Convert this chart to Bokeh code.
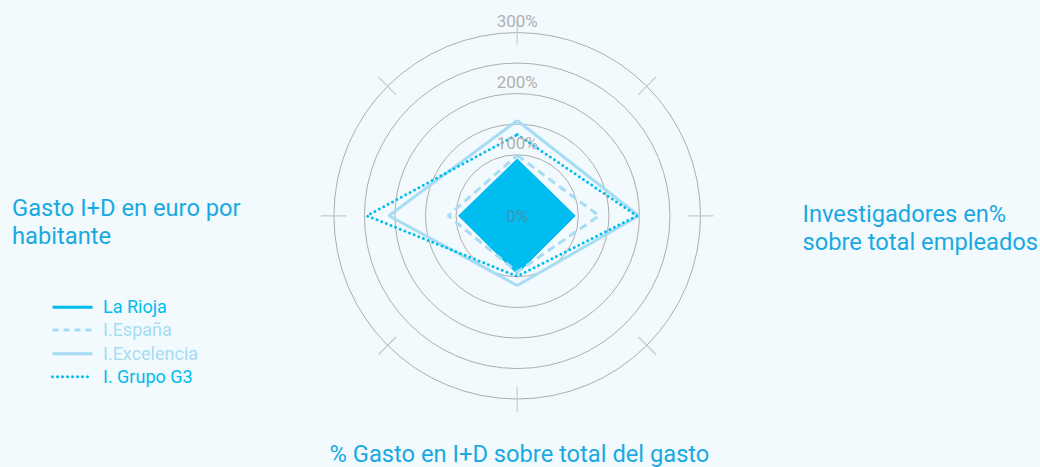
import numpy as np
from bokeh.plotting import figure
from bokeh.models import Range1d
from bokeh.core.properties import value
from bokeh.embed import file_html
from bokeh.resources import INLINE

# ---------------- data ----------------
axis_labels = ["",
               ["Investigadores en%", "sobre total empleados"],
               ["% Gasto en I+D sobre total del gasto"],
               ["Gasto I+D en euro por", "habitante"]]
axis_angles_deg = [90, 0, -90, 180]          # top, right, bottom, left
series_names = ["La Rioja", "I.España", "I.Excelencia", "I. Grupo G3"]
la_rioja = [93, 95, 95, 96]
espana = [99, 134, 92, 113]
excelencia = [156, 199, 114, 210]
grupo_g3 = [133, 196, 99, 246]
ring_values = [50, 100, 150, 200, 250, 300]
ring_labels = {0: "0%", 100: "100%", 200: "200%", 300: "300%"}

# ---------------- layout helpers ----------------
W, H = 1040, 467
CX, CY = 516.7, 215.3         # page pixel of centre
PPU = 0.611                   # pixels per percent unit


def px(x):
    return (x - CX) / PPU


def py(y):
    return (CY - y) / PPU


BG = "#f3fafd"
CYAN = "#00bdef"
LIGHT = "#a6dcf4"
TEXT = "#19a9e2"
FONT = value("Roboto")

p = figure(width=W, height=H, output_backend="svg", toolbar_location=None,
           x_range=Range1d(px(0), px(W)),
           y_range=Range1d(py(H), py(0)),
           min_border=0)
p.axis.visible = False
p.grid.visible = False
p.outline_line_color = None
p.background_fill_color = BG
p.border_fill_color = BG

# rings
for r in ring_values:
    if r == 50:
        p.circle(x=0, y=0, radius=r, fill_color=None, line_color="#8f8f8f",
                 line_width=0.8, line_dash="2 2")
    else:
        p.circle(x=0, y=0, radius=r, fill_color=None, line_color="#a5a5a5",
                 line_width=0.9)

# radial ticks on outer ring
for a in range(0, 360, 45):
    t = np.deg2rad(a)
    p.line([280 * np.cos(t), 321 * np.cos(t)], [280 * np.sin(t), 321 * np.sin(t)],
           line_color="#c9c9c9", line_width=1.2)

ang = np.deg2rad(axis_angles_deg)


def poly(vals):
    v = np.array(vals + vals[:1], dtype=float)
    a = np.concatenate([ang, ang[:1]])
    return v * np.cos(a), v * np.sin(a)


xs, ys = poly(la_rioja)
p.patch(xs, ys, fill_color=CYAN, line_color=CYAN, line_width=1)

xs, ys = poly(espana)
p.line(xs, ys, line_color=LIGHT, line_width=3, line_dash="8 5")

xs, ys = poly(excelencia)
p.line(xs, ys, line_color=LIGHT, line_width=3)

xs, ys = poly(grupo_g3)
p.line(xs, ys, line_color=CYAN, line_width=3, line_dash="0 5", line_cap="round")

# ring labels (text centre a few pixels above each ring)
for v, lab in ring_labels.items():
    if v == 0:
        p.text(x=[0], y=[0], text=[lab], text_align="center", text_baseline="middle",
               text_font=FONT, text_font_size="17px", text_color="#4f8aa3", text_alpha=0.85)
    else:
        p.text(x=[0], y=[v], text=[lab], text_align="center", text_baseline="middle",
               y_offset=-11.5, text_font=FONT, text_font_size="17px",
               text_color="#b0b0b0")

# axis labels
lab_right = axis_labels[1]
for i, s in enumerate(lab_right):
    p.text(x=[px(802)], y=[py(213.2 + 28.5 * i)], text=[s], text_align="left",
           text_baseline="middle", text_font=FONT, text_font_size="23.7px", text_color=TEXT)
lab_bottom = axis_labels[2]
p.text(x=[px(519)], y=[py(453.2)], text=lab_bottom, text_align="center",
       text_baseline="middle", text_font=FONT, text_font_size="23.7px", text_color=TEXT)
lab_left = axis_labels[3]
for i, s in enumerate(lab_left):
    p.text(x=[px(11.5)], y=[py(207 + 28.5 * i)], text=[s], text_align="left",
           text_baseline="middle", text_font=FONT, text_font_size="23.7px", text_color=TEXT)

# legend
leg_y = [306.7, 329.5, 353.3, 376.3]
leg_style = [dict(line_color=CYAN, line_width=3),
             dict(line_color=LIGHT, line_width=3, line_dash="6 5"),
             dict(line_color=LIGHT, line_width=3),
             dict(line_color=CYAN, line_width=3, line_dash="0 5", line_cap="round")]
leg_text_color = [CYAN, LIGHT, LIGHT, CYAN]
for name, yy, st, tc in zip(series_names, leg_y, leg_style, leg_text_color):
    p.line([px(52), px(92)], [py(yy), py(yy)], **st)
    p.text(x=[px(102.5)], y=[py(yy - 0.5)], text=[name], text_align="left",
           text_baseline="middle", text_font=FONT, text_font_size="18px", text_color=tc)

open("out.html", "w").write(file_html(p, INLINE))
